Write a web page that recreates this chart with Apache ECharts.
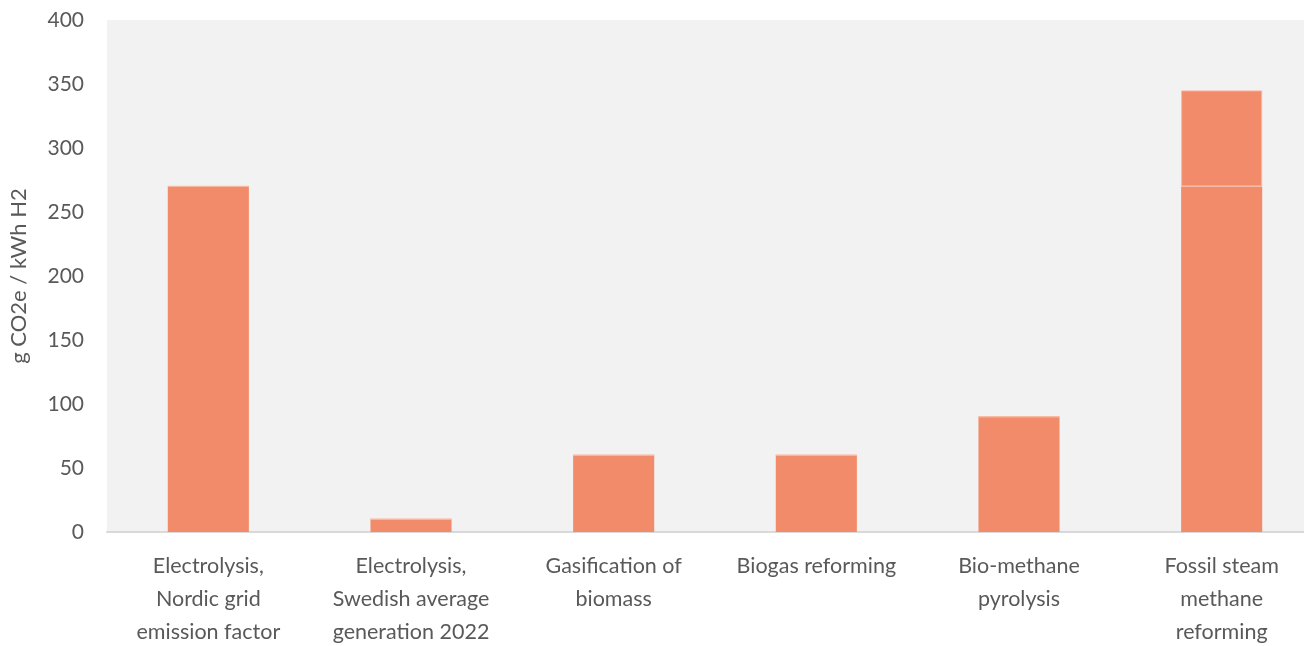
<!DOCTYPE html>
<html>
<head>
<meta charset="utf-8">
<script src="https://cdn.jsdelivr.net/npm/echarts@6/dist/echarts.min.js"></script>
<style>
  html, body { margin: 0; padding: 0; background: #fff; }
  #main { width: 1304px; height: 646px; }
</style>
</head>
<body>
<div id="main"></div>
<script>
// categories and values
var categories = [
    'Electrolysis,\nNordic grid\nemission factor',
    'Electrolysis,\nSwedish average\ngeneration 2022',
    'Gasification of\nbiomass',
    'Biogas reforming',
    'Bio-methane\npyrolysis',
    'Fossil steam\nmethane\nreforming'
];
var baseValues = [270, 10, 60, 60, 90, 270];
var extraValues = [0, 0, 0, 0, 0, 75];
var yTicks = [0, 50, 100, 150, 200, 250, 300, 350, 400];

var chartDom = document.getElementById('main');
var myChart = echarts.init(chartDom);

var option = {
    animation: false,
    textStyle: { fontFamily: 'Lato' },
    grid: {
        left: 107,
        right: -19,
        top: 20,
        bottom: 114,
        outerBoundsMode: 'none',
        containLabel: false,
        show: true,
        backgroundColor: '#f2f2f2',
        borderWidth: 0
    },
    xAxis: {
        type: 'category',
        data: categories,
        axisLine: { lineStyle: { color: '#d9d9d9', width: 2 } },
        axisTick: { show: false },
        axisLabel: {
            interval: 0,
            color: '#595959',
            fontSize: 21.5,
            lineHeight: 33,
            margin: 18,
            fontFamily: 'Lato'
        }
    },
    yAxis: {
        type: 'value',
        min: yTicks[0],
        max: yTicks[yTicks.length - 1],
        interval: 50,
        name: 'g CO2e / kWh H2',
        nameLocation: 'middle',
        nameGap: 77,
        nameTextStyle: { color: '#595959', fontSize: 22, fontFamily: 'Lato' },
        axisLine: { show: false },
        axisTick: { show: false },
        splitLine: { show: false },
        axisLabel: { color: '#595959', fontSize: 21, margin: 23, fontFamily: 'Lato' }
    },
    series: [
        {
            type: 'bar',
            stack: 'total',
            data: baseValues,
            barWidth: '40%',
            itemStyle: { color: '#f18b69' }
        },
        {
            type: 'bar',
            stack: 'total',
            data: extraValues,
            barWidth: '40%',
            itemStyle: { color: '#f18b69', borderColor: '#f7b8a2', borderWidth: 1 }
        }
    ]
};

option && myChart.setOption(option);
</script>
</body>
</html>
